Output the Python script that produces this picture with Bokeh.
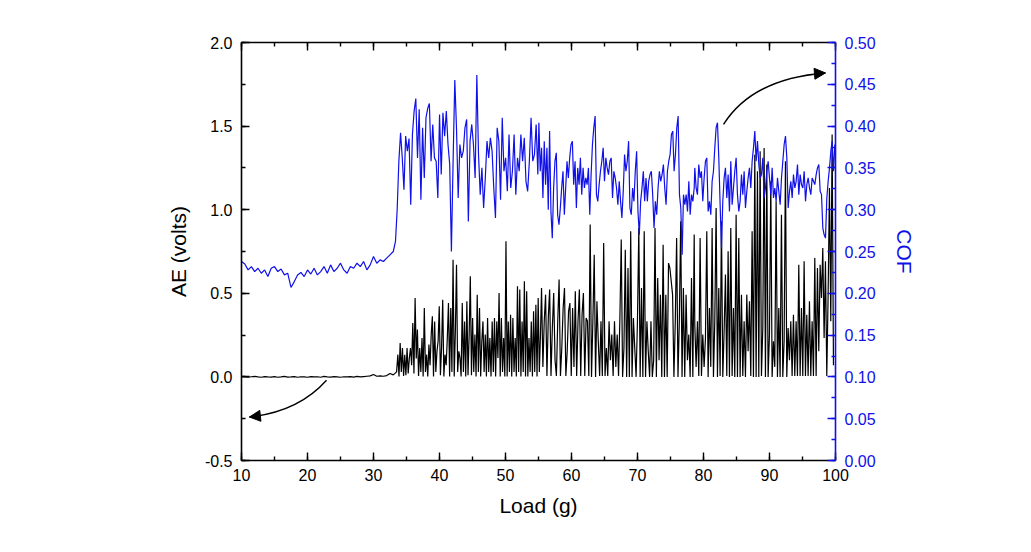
import numpy as np
from bokeh.plotting import figure
from bokeh.models import (Range1d, LinearAxis, SingleIntervalTicker, NumeralTickFormatter,
                          CustomJSTickFormatter, Arrow, NormalHead)
from bokeh.embed import file_html
from bokeh.resources import INLINE

# ---------------- data ----------------
# COF (right axis), piecewise sampled segments: (load start, load end, values)
cof_pre_range = (10.0, 33.0)
cof_pre = [0.238, 0.235, 0.228, 0.232, 0.226, 0.230, 0.224, 0.228, 0.220, 0.230,
           0.232, 0.226, 0.229, 0.222, 0.224, 0.207, 0.214, 0.222, 0.225, 0.220,
           0.228, 0.223, 0.230, 0.222, 0.226, 0.232, 0.224, 0.234, 0.226, 0.230,
           0.236, 0.228, 0.224, 0.232, 0.230, 0.236, 0.232, 0.238, 0.228, 0.234,
           0.244, 0.236, 0.240, 0.238, 0.242, 0.246, 0.250]

cof_b_range = (33.33, 54.90)
cof_b = [0.262, 0.300, 0.358, 0.392, 0.362, 0.324, 0.388, 0.370, 0.385, 0.306,
         0.390, 0.418, 0.433, 0.362, 0.420, 0.312, 0.398, 0.338, 0.410, 0.421,
         0.427, 0.358, 0.402, 0.362, 0.358, 0.314, 0.414, 0.342, 0.416, 0.388,
         0.418, 0.378, 0.354, 0.250, 0.358, 0.455, 0.398, 0.314, 0.378, 0.362,
         0.370, 0.398, 0.408, 0.286, 0.382, 0.402, 0.378, 0.338, 0.461, 0.366,
         0.318, 0.350, 0.302, 0.338, 0.382, 0.362, 0.386, 0.370, 0.326, 0.290,
         0.398, 0.382, 0.312, 0.410, 0.346, 0.362, 0.322, 0.390, 0.326, 0.346,
         0.390, 0.318, 0.362, 0.346, 0.390, 0.358, 0.386, 0.334, 0.322, 0.358,
         0.410, 0.358, 0.366, 0.402, 0.342]

cof_c_range = (55.06, 78.59)
cof_c = [0.404, 0.346, 0.374, 0.314, 0.382, 0.330, 0.374, 0.300, 0.394, 0.298,
         0.266, 0.326, 0.358, 0.368, 0.294, 0.282, 0.302, 0.326, 0.346, 0.294,
         0.326, 0.358, 0.338, 0.362, 0.378, 0.382, 0.330, 0.358, 0.302, 0.350,
         0.330, 0.362, 0.318, 0.350, 0.326, 0.338, 0.330, 0.350, 0.294, 0.342,
         0.378, 0.398, 0.412, 0.318, 0.310, 0.330, 0.346, 0.358, 0.374, 0.334,
         0.362, 0.350, 0.342, 0.358, 0.362, 0.314, 0.346, 0.338, 0.326, 0.306,
         0.334, 0.310, 0.290, 0.322, 0.366, 0.346, 0.358, 0.382, 0.302, 0.294,
         0.326, 0.310, 0.346, 0.370, 0.298, 0.270, 0.310, 0.326, 0.346, 0.310,
         0.338, 0.310, 0.334, 0.342, 0.346, 0.318, 0.278, 0.310, 0.294, 0.326,
         0.346, 0.334, 0.342, 0.354, 0.326, 0.306, 0.346, 0.358, 0.366, 0.390,
         0.394, 0.346, 0.366, 0.398, 0.412, 0.318, 0.302, 0.246, 0.318, 0.306,
         0.318, 0.298, 0.334, 0.294, 0.318, 0.310, 0.326]

cof_d_range = (78.68, 99.90)
cof_d = [0.350, 0.326, 0.318, 0.354, 0.338, 0.346, 0.310, 0.338, 0.358, 0.362,
         0.298, 0.310, 0.294, 0.334, 0.346, 0.374, 0.398, 0.404, 0.362, 0.306,
         0.254, 0.310, 0.338, 0.350, 0.314, 0.342, 0.298, 0.358, 0.306, 0.326,
         0.346, 0.362, 0.318, 0.298, 0.310, 0.342, 0.318, 0.346, 0.302, 0.322,
         0.338, 0.350, 0.326, 0.358, 0.374, 0.394, 0.358, 0.382, 0.354, 0.338,
         0.342, 0.362, 0.314, 0.326, 0.346, 0.358, 0.338, 0.318, 0.350, 0.314,
         0.326, 0.310, 0.338, 0.322, 0.306, 0.338, 0.358, 0.378, 0.388, 0.362,
         0.302, 0.322, 0.334, 0.314, 0.342, 0.326, 0.334, 0.354, 0.318, 0.342,
         0.330, 0.326, 0.346, 0.310, 0.330, 0.338, 0.326, 0.318, 0.338, 0.334,
         0.330, 0.342, 0.350, 0.354, 0.322, 0.318, 0.278, 0.270, 0.266, 0.314,
         0.334, 0.350, 0.370, 0.382, 0.346, 0.378]

# AE (left axis)
ae_pre_range = (10.0, 33.5)
ae_pre = [0.002, 0.0, -0.002, 0.001, 0.003, 0.0, -0.002, 0.002, 0.0, -0.001,
          0.002, -0.002, 0.0, 0.003, -0.001, 0.0, 0.002, -0.002, 0.001, 0.0,
          -0.002, 0.002, 0.0, 0.001, -0.002, 0.003, 0.0, -0.001, 0.002, 0.0,
          -0.002, 0.001, 0.0, 0.002, -0.001, 0.003, 0.0, 0.002, 0.004, 0.006,
          0.014, 0.004, 0.006, 0.004, 0.008, 0.020, 0.012, 0.030]

ae_e_range = (33.69, 55.30)
ae_e = [0.133, 0.002, 0.203, 0.030, 0.173, 0.005, 0.133, 0.010, 0.173, 0.020,
        0.113, 0.173, 0.070, 0.323, 0.020, 0.472, 0.110, 0.283, 0.005, 0.173,
        0.030, 0.233, 0.002, 0.412, 0.030, 0.133, 0.002, 0.193, 0.070, 0.253,
        0.362, 0.002, 0.332, 0.030, 0.153, 0.213, 0.422, 0.010, 0.173, 0.462,
        0.002, 0.133, 0.070, 0.233, 0.442, 0.002, 0.412, 0.030, 0.701, 0.002,
        0.273, 0.671, 0.030, 0.153, 0.113, 0.002, 0.442, 0.030, 0.332, 0.002,
        0.452, 0.010, 0.253, 0.602, 0.010, 0.352, 0.030, 0.253, 0.002, 0.492,
        0.030, 0.412, 0.002, 0.213, 0.332, 0.030, 0.253, 0.002, 0.352, 0.030,
        0.233, 0.002, 0.332, 0.030, 0.352, 0.002, 0.332, 0.113, 0.502, 0.002,
        0.352, 0.030, 0.233, 0.002, 0.811, 0.002, 0.332, 0.030, 0.372, 0.002,
        0.352, 0.030, 0.233, 0.002, 0.542, 0.030, 0.522, 0.002, 0.332, 0.030,
        0.572, 0.002, 0.512, 0.002, 0.233, 0.030, 0.332, 0.002, 0.392, 0.030,
        0.432, 0.002, 0.472, 0.030, 0.253]

ae_f_range = (55.46, 78.59)
ae_f = [0.532, 0.060, 0.333, 0.492, 0.005, 0.352, 0.522, 0.005, 0.293, 0.502,
        0.100, 0.005, 0.333, 0.582, 0.005, 0.173, 0.412, 0.532, 0.005, 0.153,
        0.392, 0.442, 0.005, 0.412, 0.060, 0.512, 0.005, 0.333, 0.522, 0.005,
        0.372, 0.502, 0.005, 0.352, 0.333, 0.005, 0.911, 0.000, 0.333, 0.731,
        0.000, 0.452, 0.213, 0.005, 0.333, 0.005, 0.801, 0.005, 0.173, 0.005,
        0.333, 0.100, 0.253, 0.005, 0.333, 0.060, 0.253, 0.005, 0.352, 0.821,
        0.000, 0.173, 0.761, 0.000, 0.651, 0.000, 0.871, 0.000, 0.352, 0.173,
        0.000, 0.333, 0.891, 0.000, 0.532, 0.000, 0.871, 0.000, 0.333, 0.153,
        0.000, 0.333, 0.000, 0.100, 0.891, 0.000, 0.592, 0.100, 0.492, 0.000,
        0.791, 0.000, 0.492, 0.000, 0.681, 0.651, 0.572, 0.492, 0.000, 0.333,
        0.831, 0.000, 0.333, 0.931, 0.000, 0.532, 0.000, 0.492, 0.100, 0.253,
        0.000, 0.592, 0.000, 0.851]

ae_g_range = (78.68, 99.69)
ae_g = [0.313, 0.060, 0.333, 0.005, 0.831, 0.005, 0.253, 0.060, 0.233, 0.871,
        0.000, 0.412, 0.060, 0.891, 0.000, 0.333, 1.010, 0.000, 0.532, 0.005,
        0.931, 0.000, 0.273, 0.612, 0.005, 0.751, 0.000, 0.891, 0.005, 0.412,
        0.000, 0.970, 0.000, 0.831, 0.000, 0.492, 0.005, 0.333, 0.000, 0.492,
        0.153, 0.452, 0.005, 0.871, 0.000, 1.329, 0.000, 1.230, 0.000, 1.349,
        0.005, 0.293, 1.369, 0.000, 1.270, 0.000, 0.253, 1.170, 0.000, 0.213,
        0.060, 1.050, 0.000, 0.412, 0.000, 0.970, 0.000, 0.213, 1.290, 0.000,
        0.293, 0.100, 0.333, 0.005, 0.372, 0.005, 0.333, 0.005, 0.671, 0.005,
        0.412, 0.005, 0.691, 0.005, 0.372, 0.005, 0.452, 0.005, 0.333, 0.005,
        0.711, 0.005, 0.651, 0.153, 0.671, 0.472, 0.771, 0.233, 0.691, 0.005,
        0.492, 1.130, 0.333, 1.449, 0.070]

# annotation arrows (data units): start, control, tip
arrow_cof = dict(x0=83.03, y0=1.510, cx=87.42, cy=1.784, x1=98.48, y1=1.818)
arrow_ae = dict(x0=22.88, y0=-0.020, cx=18.64, cy=-0.208, x1=11.20, y1=-0.240)


def build(segments):
    xs, ys = [], []
    for (a, b), vals in segments:
        xs.extend(np.linspace(a, b, len(vals)))
        ys.extend(vals)
    return xs, ys


cof_x, cof_y = build([(cof_pre_range, cof_pre), (cof_b_range, cof_b),
                      (cof_c_range, cof_c), (cof_d_range, cof_d)])
ae_x, ae_y = build([(ae_pre_range, ae_pre), (ae_e_range, ae_e),
                    (ae_f_range, ae_f), (ae_g_range, ae_g)])

# ---------------- figure ----------------
BLUE = "#1010e8"
FONT = "Liberation Sans"

p = figure(frame_width=594, frame_height=418,
           min_border_left=241, min_border_right=196, min_border_top=42, min_border_bottom=92,
           x_range=Range1d(10, 100), y_range=Range1d(-0.5, 2.0),
           x_axis_type=None, y_axis_type=None,
           output_backend="svg", toolbar_location=None)
p.outline_line_color = None
p.background_fill_color = "white"
p.border_fill_color = "white"
p.extra_y_ranges = {"cof": Range1d(0, 0.5)}


def style(ax, color="black"):
    ax.axis_line_color = color
    ax.axis_line_width = 1.6
    ax.major_tick_line_color = color
    ax.minor_tick_line_color = color
    ax.major_tick_line_width = 1.4
    ax.minor_tick_line_width = 1.4
    ax.major_tick_in = 8
    ax.major_tick_out = 0
    ax.minor_tick_in = 4
    ax.minor_tick_out = 0
    ax.major_label_text_font = FONT
    ax.major_label_text_font_size = "16px"
    ax.major_label_text_color = color
    ax.axis_label_text_font = FONT
    ax.axis_label_text_font_size = "21px"
    ax.axis_label_text_font_style = "normal"
    ax.axis_label_text_color = color


yl = LinearAxis(ticker=SingleIntervalTicker(interval=0.5, num_minor_ticks=2),
                formatter=NumeralTickFormatter(format="0.0"), axis_label="AE (volts)")
style(yl)
yl.major_label_standoff = 9
yl.axis_label_standoff = 12
p.add_layout(yl, "left")

xb = LinearAxis(ticker=SingleIntervalTicker(interval=10, num_minor_ticks=2),
                formatter=NumeralTickFormatter(format="0"), axis_label="Load (g)")
style(xb)
xb.major_label_standoff = 8
xb.axis_label_standoff = 10
p.add_layout(xb, "below")

xt = LinearAxis(ticker=SingleIntervalTicker(interval=10, num_minor_ticks=2),
                formatter=CustomJSTickFormatter(code="return ''"))
style(xt)
p.add_layout(xt, "above")

yr = LinearAxis(y_range_name="cof", ticker=SingleIntervalTicker(interval=0.05, num_minor_ticks=2),
                formatter=NumeralTickFormatter(format="0.00"), axis_label="COF")
style(yr, BLUE)
yr.major_label_standoff = 9
yr.axis_label_standoff = 14
p.add_layout(yr, "right")

# AE trace (black) then COF trace (blue) on top
p.line(ae_x, ae_y, line_color="black", line_width=1.2)
p.line(cof_x, cof_y, line_color=BLUE, line_width=1.2, y_range_name="cof")

# curved arrows
for a in (arrow_cof, arrow_ae):
    p.quadratic(x0=[a["x0"]], y0=[a["y0"]], x1=[a["x1"]], y1=[a["y1"]],
                cx=[a["cx"]], cy=[a["cy"]], line_color="black", line_width=1.4)
    sx = a["x1"] - 0.15 * (a["x1"] - a["cx"])
    sy = a["y1"] - 0.15 * (a["y1"] - a["cy"])
    p.add_layout(Arrow(end=NormalHead(size=11, fill_color="black", line_color="black", line_width=1),
                       x_start=sx, y_start=sy, x_end=a["x1"], y_end=a["y1"],
                       line_alpha=0))

open("out.html", "w").write(file_html(p, INLINE))
